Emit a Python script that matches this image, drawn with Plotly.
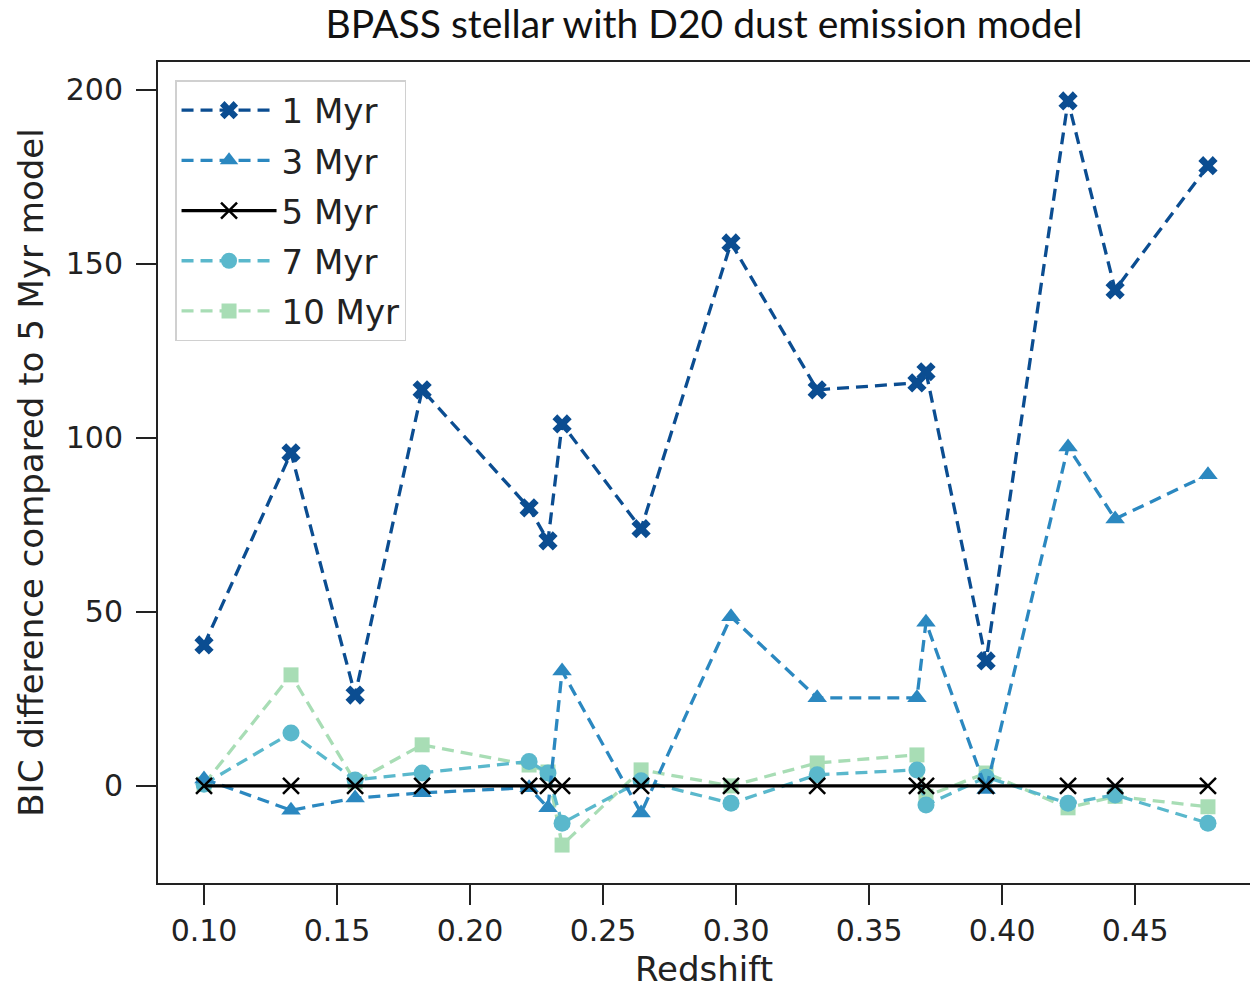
import plotly.graph_objects as go

redshift = [0.100, 0.1327, 0.1568, 0.182, 0.2222, 0.2293, 0.2346, 0.2643,
            0.2981, 0.3305, 0.368, 0.3714, 0.394, 0.4248, 0.4425, 0.4774]

bic_1myr = [40.5, 95.7, 26.1, 113.8, 79.9, 70.4, 104.0, 73.9,
            156.0, 113.8, 115.8, 119.0, 35.9, 196.8, 142.5, 178.2]
bic_3myr = [2.0, -7.0, -3.5, -2.0, -0.5, -6.3, 33.0, -7.8,
            48.6, 25.3, 25.3, 47.0, -1.0, 97.4, 76.7, 89.4]
bic_5myr = [0.0] * 16
bic_7myr = [0.5, 15.2, 1.7, 3.7, 7.0, 3.7, -10.7, 1.5,
            -5.0, 3.2, 4.6, -5.5, 2.5, -5.0, -2.6, -10.7]
bic_10myr = [0.5, 31.9, 1.2, 11.8, 6.0, 4.0, -17.0, 4.6,
             0.0, 6.6, 8.9, -3.0, 3.7, -6.3, -3.0, -6.0]

x_ticks = [0.10, 0.15, 0.20, 0.25, 0.30, 0.35, 0.40, 0.45]
x_tick_labels = ["0.10", "0.15", "0.20", "0.25", "0.30", "0.35", "0.40", "0.45"]
y_ticks = [0, 50, 100, 150, 200]

DASH = "12px,7px"
series = [
    # name, values, color, symbol, size, dash, rank
    ("10 Myr", bic_10myr, "#a8ddb5", "square", 15, DASH, 5),
    ("7 Myr", bic_7myr, "#5ab8cc", "circle", 17, DASH, 4),
    ("3 Myr", bic_3myr, "#2b88c0", "triangle-up", 17, DASH, 2),
    ("1 Myr", bic_1myr, "#0b4d91", "x", 17, DASH, 1),
    ("5 Myr", bic_5myr, "#000000", "x-thin-open", 16, "solid", 3),
]

fig = go.Figure()
for name, vals, color, sym, size, dash, rank in series:
    marker = dict(symbol=sym, size=size, color=color)
    if sym == "x-thin-open":
        marker["line"] = dict(color=color, width=2.5)
    else:
        marker["line"] = dict(width=0)
    fig.add_trace(go.Scatter(
        x=redshift, y=vals, name=name, mode="lines+markers",
        line=dict(color=color, width=3.3, dash=dash),
        marker=marker, legendrank=rank, legendgroup=name,
    ))

tick_font = dict(family="DejaVu Sans", size=30, color="#222")
label_font = dict(family="DejaVu Sans", size=34, color="#222")
fig.update_layout(
    width=1250, height=989,
    margin=dict(l=158, r=0, t=62, b=106),
    paper_bgcolor="white", plot_bgcolor="white",
    title=dict(text="BPASS stellar with D20 dust emission model",
               x=0.5, xref="paper", xanchor="center",
               y=0.9755, yref="container", yanchor="middle",
               font=dict(family="Lato", size=39, color="#111")),
    xaxis=dict(range=[0.0827, 0.4932], tickvals=x_ticks, ticktext=x_tick_labels,
               ticks="outside", ticklen=20, tickwidth=2, tickcolor="#222",
               showline=True, linecolor="#222", linewidth=2, mirror=True,
               showgrid=False, zeroline=False, tickfont=tick_font,
               title=dict(text="Redshift", standoff=10, font=label_font)),
    yaxis=dict(range=[-27.9, 208.0], tickvals=y_ticks,
               ticks="outside", ticklen=20, tickwidth=2, tickcolor="#222",
               ticklabelstandoff=7,
               showline=True, linecolor="#222", linewidth=2, mirror=False,
               showgrid=False, zeroline=False, tickfont=tick_font,
               title=dict(text="BIC difference compared to 5 Myr model", standoff=12,
                          font=label_font)),
    legend=dict(x=0.0156, y=0.978, xanchor="left", yanchor="top",
                bgcolor="white", bordercolor="#d0d0d0", borderwidth=1.5,
                font=label_font, itemwidth=95,
                traceorder="grouped", tracegroupgap=3),
    showlegend=True,
)

fig.write_html("out.html")
